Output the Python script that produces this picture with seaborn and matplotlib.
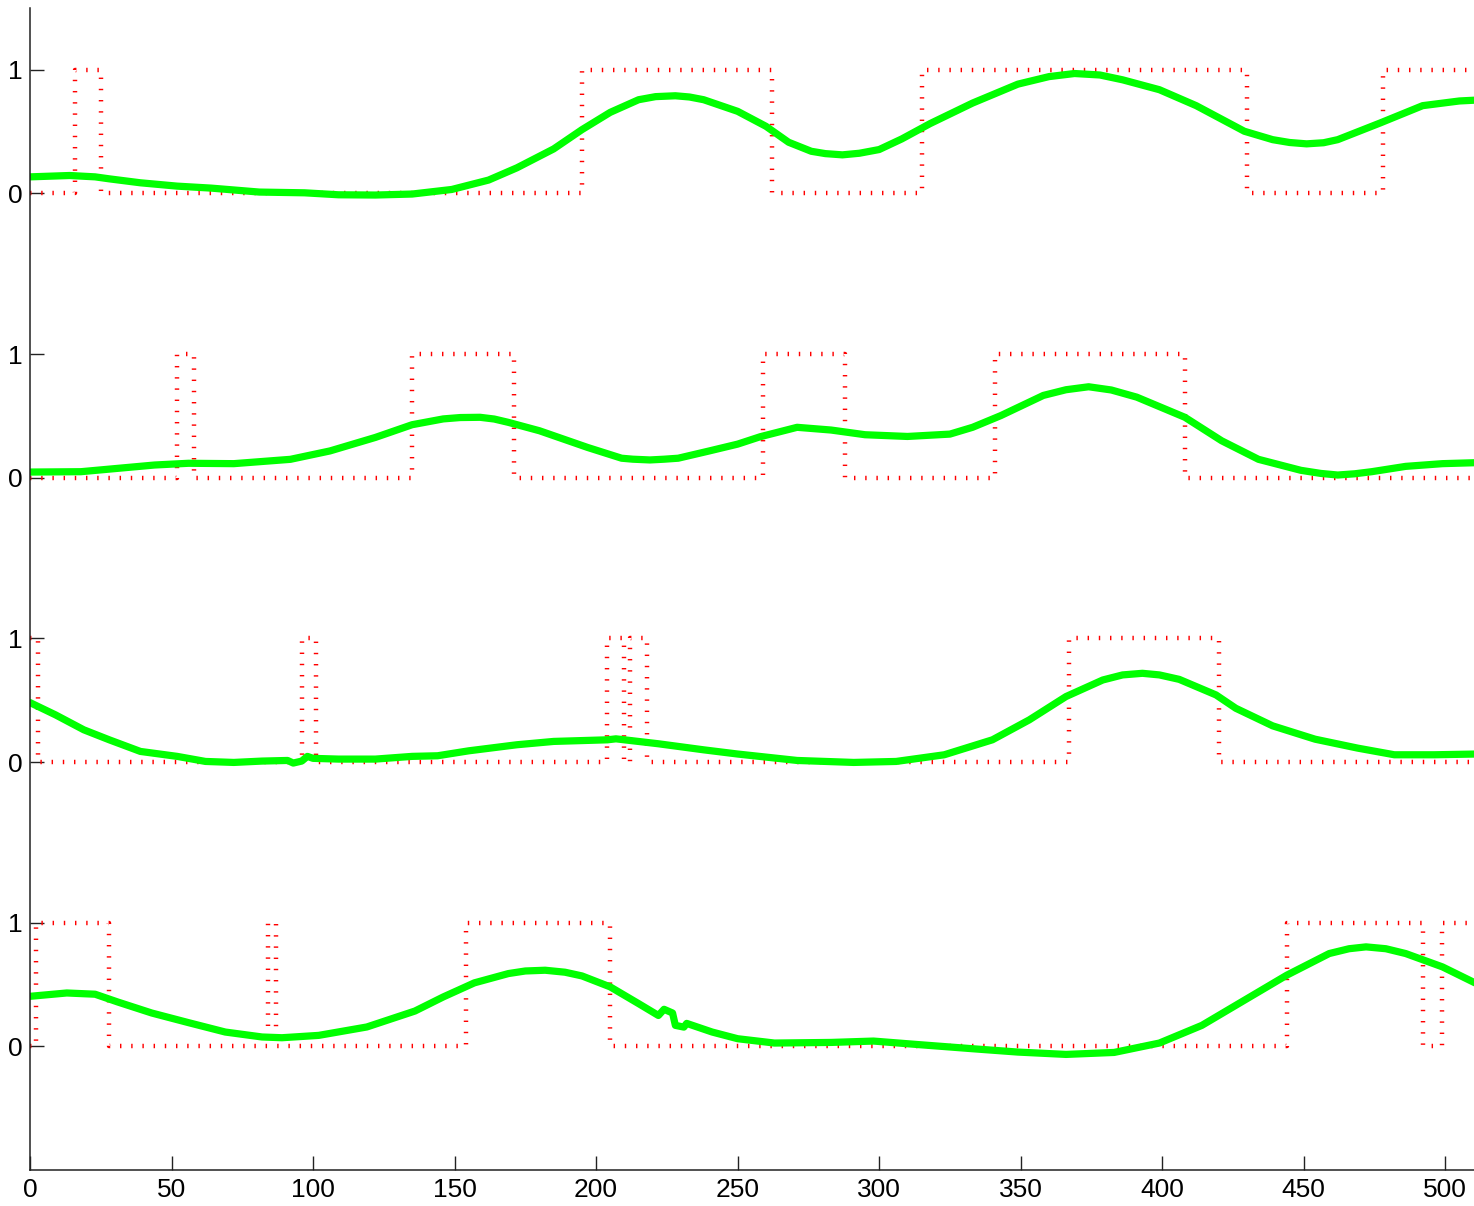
import numpy as np
import pandas as pd
import matplotlib
matplotlib.use("Agg")
import matplotlib.pyplot as plt
import seaborn as sns

# ---- binary reference signals: level switches (sample index where each level starts)
ref1_starts = [0, 16, 25, 195, 262, 315, 430, 478]
ref1_levels = [0, 1, 0, 1, 0, 1, 0, 1]
ref2_starts = [0, 52, 58, 135, 171, 259, 288, 341, 408]
ref2_levels = [0, 1, 0, 1, 0, 1, 0, 1, 0]
ref3_starts = [0, 3, 96, 101, 204, 210, 212, 218, 367, 420]
ref3_levels = [1, 0, 1, 0, 1, 0, 1, 0, 1, 0]
ref4_starts = [0, 2, 28, 84, 87, 154, 205, 444, 492, 499]
ref4_levels = [0, 1, 0, 1, 0, 1, 0, 1, 0, 1]

# ---- smoothed estimates (sample index, value)
est1_x = [0, 14, 23, 28, 39, 52, 64, 81, 97, 109, 122, 135, 149, 162, 172, 185, 195, 205,
          215, 221, 228, 233, 238, 250, 260, 268, 276, 281, 287, 293, 300, 308, 318, 333,
          349, 360, 369, 378, 386, 399, 412, 429, 439, 445, 451, 457, 462, 477, 492, 505,
          511]
est1_y = [0.134, 0.145, 0.134, 0.118, 0.086, 0.059, 0.043, 0.011, 0.005, -0.011, -0.013,
          -0.005, 0.032, 0.108, 0.207, 0.360, 0.516, 0.656, 0.758, 0.783, 0.790, 0.780,
          0.758, 0.664, 0.543, 0.414, 0.341, 0.322, 0.312, 0.325, 0.355, 0.441, 0.565,
          0.731, 0.884, 0.945, 0.970, 0.958, 0.919, 0.839, 0.710, 0.503, 0.435, 0.412,
          0.401, 0.410, 0.435, 0.570, 0.710, 0.748, 0.755]

est2_x = [0, 18, 31, 44, 56, 72, 92, 106, 122, 135, 146, 152, 159, 164, 169, 180, 197,
          209, 213, 219, 224, 229, 240, 250, 258, 271, 283, 295, 310, 325, 333, 343, 358,
          366, 374, 382, 391, 408, 421, 434, 449, 456, 462, 468, 474, 486, 499, 511]
est2_y = [0.046, 0.049, 0.076, 0.103, 0.117, 0.114, 0.149, 0.217, 0.326, 0.429, 0.476,
          0.487, 0.489, 0.475, 0.448, 0.380, 0.245, 0.158, 0.150, 0.144, 0.150, 0.158,
          0.217, 0.272, 0.332, 0.408, 0.386, 0.348, 0.334, 0.353, 0.408, 0.503, 0.666,
          0.712, 0.736, 0.710, 0.652, 0.489, 0.299, 0.149, 0.060, 0.035, 0.022, 0.032,
          0.049, 0.092, 0.114, 0.122]

est3_x = [0, 9, 19, 28, 39, 52, 62, 72, 82, 91, 93, 96, 98, 100, 109, 122, 135, 144, 155,
          172, 185, 204, 207, 222, 238, 250, 271, 291, 306, 323, 340, 353, 366, 379, 386,
          393, 399, 406, 419, 426, 439, 454, 469, 482, 496, 511]
est3_y = [0.481, 0.382, 0.261, 0.180, 0.086, 0.046, 0.005, -0.003, 0.008, 0.013, -0.008,
          0.008, 0.046, 0.030, 0.024, 0.024, 0.046, 0.051, 0.091, 0.140, 0.167, 0.180,
          0.188, 0.148, 0.099, 0.065, 0.013, -0.003, 0.005, 0.059, 0.180, 0.341, 0.530,
          0.664, 0.705, 0.718, 0.705, 0.669, 0.543, 0.435, 0.293, 0.185, 0.113, 0.059,
          0.059, 0.065]

est4_x = [0, 13, 23, 31, 43, 56, 69, 82, 89, 102, 119, 136, 146, 157, 169, 175, 182, 189,
          195, 205, 215, 222, 224, 227, 228, 231, 232, 241, 250, 263, 283, 298, 313, 333,
          349, 366, 383, 399, 414, 429, 444, 459, 466, 472, 479, 486, 499, 511]
est4_y = [0.405, 0.432, 0.422, 0.359, 0.270, 0.192, 0.116, 0.076, 0.070, 0.089, 0.157,
          0.286, 0.400, 0.514, 0.589, 0.610, 0.616, 0.600, 0.570, 0.481, 0.346, 0.250,
          0.300, 0.270, 0.170, 0.156, 0.186, 0.116, 0.062, 0.027, 0.032, 0.043, 0.016,
          -0.019, -0.046, -0.065, -0.049, 0.027, 0.170, 0.373, 0.576, 0.751, 0.790, 0.805,
          0.790, 0.751, 0.643, 0.508]

n_samples = 512
offsets = [6.9, 4.6, 2.3, 0.0]
refs = [(ref1_starts, ref1_levels), (ref2_starts, ref2_levels),
        (ref3_starts, ref3_levels), (ref4_starts, ref4_levels)]
ests = [(est1_x, est1_y), (est2_x, est2_y), (est3_x, est3_y), (est4_x, est4_y)]
x_ticks = [0, 50, 100, 150, 200, 250, 300, 350, 400, 450, 500]

sns.set_style("ticks")
plt.rcParams["font.family"] = ["Liberation Sans", "DejaVu Sans"]

W, H, DPI = 1474, 1206, 100
fig = plt.figure(figsize=(W / DPI, H / DPI), dpi=DPI)
ax = fig.add_axes([30 / W, 36 / H, 511 * 2.8306 / W, 1162 / H])

samples = np.arange(n_samples)
for off, (starts, levels), (ex, ey) in zip(offsets, refs, ests):
    idx = np.searchsorted(starts, samples, side="right") - 1
    ref = pd.DataFrame({"n": samples, "v": np.asarray(levels)[idx] + off})
    sns.lineplot(data=ref, x="n", y="v", ax=ax, estimator=None, sort=False,
                 color=(1, 0, 0), linewidth=3.2, drawstyle="steps-post",
                 linestyle=(0, (0.32, 2.2)))
    est = pd.DataFrame({"n": ex, "v": np.asarray(ey) + off})
    sns.lineplot(data=est, x="n", y="v", ax=ax, estimator=None, sort=False,
                 color=(0, 1, 0), linewidth=5.2, solid_capstyle="round",
                 solid_joinstyle="round")

ax.set_xlim(0, 511)
ax.set_ylim(-1.0, 8.4)
ax.set_xlabel("")
ax.set_ylabel("")

yt, yl = [], []
for off in offsets[::-1]:
    yt += [off, off + 1]
    yl += ["0", "1"]
ax.set_yticks(yt)
ax.set_yticklabels(yl)
ax.set_xticks(x_ticks)
ax.set_xticklabels([str(t) for t in x_ticks])

for side in ("top", "right"):
    ax.spines[side].set_visible(False)
for side in ("left", "bottom"):
    ax.spines[side].set_color("#222222")
    ax.spines[side].set_linewidth(1.1)

ax.tick_params(axis="both", which="major", direction="in", length=10, width=1.0,
               color="#222222", labelsize=19, labelcolor="black", pad=5.5,
               bottom=True, left=True, top=False, right=False)
ax.grid(False)

fig.savefig("out.png", dpi=DPI, facecolor="white")
